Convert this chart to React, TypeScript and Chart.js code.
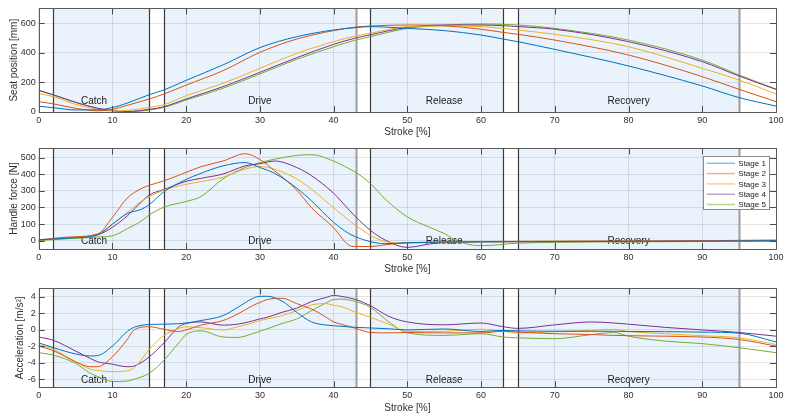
import React, { useEffect, useRef } from 'react';
import { Chart, registerables } from 'chart.js';

Chart.register(...registerables);

// ---------------- data ----------------
const STAGES = ['Stage 1', 'Stage 2', 'Stage 3', 'Stage 4', 'Stage 5'];
const PHASES = ['Catch', 'Drive', 'Release', 'Recovery'];
const PHASE_START = [2, 17, 45, 65];
const PHASE_END = [15, 43, 63, 95];
const PHASE_LABEL_X = [7.5, 30, 55, 80];

const X_TICKS = [0, 10, 20, 30, 40, 50, 60, 70, 80, 90, 100];
const SEAT_TICKS = [0, 200, 400, 600];
const FORCE_TICKS = [0, 100, 200, 300, 400, 500];
const ACC_TICKS = [-6, -4, -2, 0, 2, 4];

const STROKE_SEAT = [0, 2, 5, 8, 10, 12, 15, 17, 20, 25, 30, 35, 40, 43, 45, 50, 55, 60, 63, 65, 70, 80, 90, 95, 100];
const SEAT_S1 = [40, 29, 14, 15, 30, 60, 117, 149, 214, 318, 435, 509, 554, 570, 577, 565, 550, 520, 493, 475, 423, 311, 176, 97, 40];
const SEAT_S2 = [70, 55, 25, 8, 18, 45, 88, 122, 182, 279, 403, 493, 550, 574, 581, 588, 583, 559, 538, 525, 486, 385, 239, 153, 70];
const SEAT_S3 = [124, 104, 52, 18, 7, 10, 31, 50, 110, 194, 295, 396, 475, 514, 532, 577, 581, 577, 565, 554, 525, 441, 295, 216, 122];
const SEAT_S4 = [145, 115, 65, 25, 9, 3, 18, 36, 88, 171, 268, 367, 457, 500, 522, 572, 588, 588, 583, 577, 559, 475, 340, 243, 153];
const SEAT_S5 = [148, 117, 66, 25, 8, 2, 13, 31, 81, 160, 257, 356, 441, 486, 509, 565, 586, 595, 592, 588, 565, 486, 351, 250, 155];

const STROKE_FORCE = [0, 4, 8, 10, 12, 14, 15, 17, 20, 22, 25, 28, 30, 32, 35, 37, 40, 42, 43, 45, 47, 50, 53, 55, 57, 60, 65, 70, 80, 90, 100];
const FORCE_S1 = [5, 15, 35, 100, 163, 190, 217, 295, 368, 405, 450, 470, 440, 405, 316, 240, 110, 45, 23, -6, -18, -12, -10, -8, -8, -7, -6, -5, -4, -3, 0];
const FORCE_S2 = [5, 22, 40, 140, 256, 315, 333, 360, 411, 445, 479, 523, 488, 420, 304, 198, 78, -25, -35, -35, -25, -12, -10, -8, -6, -5, -4, -3, -2, 0, 4];
const FORCE_S3 = [3, 18, 40, 97, 169, 240, 265, 304, 339, 355, 382, 430, 446, 430, 372, 310, 198, 125, 91, 33, -6, -15, -12, -10, -8, -7, -6, -5, -4, -3, 0];
const FORCE_S4 = [3, 18, 35, 81, 149, 236, 275, 308, 357, 375, 401, 450, 463, 479, 440, 391, 285, 190, 143, 62, 4, -40, -20, -10, -8, -7, -6, -5, -4, -3, 0];
const FORCE_S5 = [0, 12, 22, 29, 72, 120, 155, 202, 236, 265, 372, 440, 469, 490, 513, 517, 479, 435, 411, 343, 250, 143, 81, 43, -6, -30, -15, -10, -7, -5, -2];

const STROKE_ACC = [0, 2, 5, 7, 8, 10, 12, 13, 15, 17, 19, 20, 22, 25, 27, 29, 30, 31, 33, 35, 37, 39, 40, 41, 43, 45, 47.5, 50, 55, 60, 63, 65, 70, 75, 78, 80, 85, 90, 95, 100];
const ACC_S1 = [-1.6, -2.2, -2.95, -3.2, -3.15, -2.0, -0.23, 0.3, 0.62, 0.66, 0.72, 0.8, 1.1, 1.7, 2.7, 3.77, 4.04, 4.04, 3.46, 2.1, 0.93, 0.55, 0.47, 0.4, 0.27, 0.2, 0.1, -0.04, 0.08, -0.23, -0.1, -0.15, -0.2, -0.2, -0.2, -0.23, -0.25, -0.3, -0.43, -1.5];
const ACC_S2 = [-2.0, -2.56, -3.9, -4.5, -4.5, -3.3, -1.2, 0, 0.35, 0.04, -0.23, -0.04, 0.54, 1.1, 1.9, 2.9, 3.3, 3.65, 3.8, 3.15, 2.5, 1.5, 0.93, 0.66, 0.15, -0.35, -0.4, -0.35, -0.4, -0.4, -0.2, -0.3, -0.5, -0.6, -0.7, -0.74, -0.8, -0.9, -1.2, -2.0];
const ACC_S3 = [-1.8, -2.4, -3.9, -4.8, -4.95, -5.1, -5.0, -4.6, -2.4, -0.7, 0.15, 0.35, 0.23, -0.04, 0.35, 0.8, 1.1, 1.3, 1.7, 2.3, 3.0, 3.15, 2.95, 2.8, 2.1, 1.5, 0.66, -0.23, -0.2, 0.04, -0.2, -0.43, -0.25, -0.1, 0.04, -0.23, -0.5, -0.74, -1.0, -1.8];
const ACC_S4 = [-0.9, -1.3, -2.6, -3.5, -3.9, -4.2, -4.5, -4.4, -3.3, -1.6, 0.35, 0.74, 0.93, 0.54, 0.66, 1.05, 1.3, 1.5, 2.1, 2.6, 3.4, 3.9, 4.15, 4.04, 3.65, 2.9, 1.6, 0.93, 0.58, 0.8, 0.35, 0.15, 0.58, 0.93, 0.8, 0.66, 0.27, -0.04, -0.35, -0.8];
const ACC_S5 = [-2.8, -3.1, -4.1, -5.3, -5.7, -6.3, -6.25, -6.0, -5.3, -3.7, -1.6, -0.6, -0.15, -0.9, -0.95, -0.5, -0.2, 0.1, 0.74, 1.3, 2.3, 3.26, 3.65, 3.7, 3.4, 2.7, 0.93, -0.4, -0.7, -0.5, -0.9, -1.0, -1.1, -0.6, -0.35, -0.8, -1.4, -1.7, -2.2, -2.8];

// ---------------- styles ----------------
const COLORS = ['#0072BD', '#D95319', '#EDB120', '#7E2F8E', '#77AC30'];
const LEGEND_COLORS = ['rgba(0,114,189,0.45)', 'rgba(217,83,25,0.45)', 'rgba(237,177,32,0.55)', 'rgba(126,47,142,0.45)', 'rgba(119,172,48,0.5)'];
const FONT_FAMILY = '"Liberation Sans", Arial, Helvetica, sans-serif';
const TEXT_COLOR = '#303030';
const GRID_COLOR = 'rgba(38,38,38,0.12)';
const SHADE = 'rgb(234,243,252)';
const FRAME_COLOR = '#5a5a5a';
const END_GRAY = [false, true, false, true];

const PANELS = [
  {
    yTitle: 'Seat position [mm]', x: STROKE_SEAT, series: [SEAT_S1, SEAT_S2, SEAT_S3, SEAT_S4, SEAT_S5],
    yMin: 0, yMax: 700, yTicks: SEAT_TICKS, labelY: 70, padTop: 8.3, padBottom: 0, yTitlePad: 8.7, legend: false,
  },
  {
    yTitle: 'Handle force [N]', x: STROKE_FORCE, series: [FORCE_S1, FORCE_S2, FORCE_S3, FORCE_S4, FORCE_S5],
    yMin: -50, yMax: 555, yTicks: FORCE_TICKS, labelY: -3, padTop: 5.3, padBottom: 3, yTitlePad: 8, legend: true,
  },
  {
    yTitle: 'Acceleration [m/s²]', x: STROKE_ACC, series: [ACC_S1, ACC_S2, ACC_S3, ACC_S4, ACC_S5],
    yMin: -7, yMax: 5, yTicks: ACC_TICKS, labelY: -6.2, padTop: 3.3, padBottom: 4.7, yTitlePad: 14, legend: false,
  },
];

function makeDecor(panel: any) {
  return {
    id: 'phaseDecor',
    beforeDraw(chart: any) {
      const { ctx, chartArea: a, scales } = chart;
      const xs = scales.x;
      ctx.save();
      ctx.fillStyle = SHADE;
      PHASE_START.forEach((s, i) => {
        const x0 = xs.getPixelForValue(s);
        const x1 = xs.getPixelForValue(PHASE_END[i]);
        ctx.fillRect(x0, a.top, x1 - x0, a.bottom - a.top);
      });
      ctx.restore();
    },
    beforeDatasetsDraw(chart: any) {
      const { ctx, chartArea: a, scales } = chart;
      const xs = scales.x;
      const ys = scales.y;
      ctx.save();
      PHASE_START.forEach((s, i) => {
        const x0 = Math.round(xs.getPixelForValue(s)) + 0.5;
        ctx.strokeStyle = '#3a3a3a';
        ctx.lineWidth = 1.2;
        ctx.beginPath();
        ctx.moveTo(x0, a.top);
        ctx.lineTo(x0, a.bottom);
        ctx.stroke();
        const x1 = Math.round(xs.getPixelForValue(PHASE_END[i])) + 0.5;
        ctx.strokeStyle = END_GRAY[i] ? '#9c9c9c' : '#3a3a3a';
        ctx.lineWidth = END_GRAY[i] ? 2 : 1.2;
        ctx.beginPath();
        ctx.moveTo(x1, a.top);
        ctx.lineTo(x1, a.bottom);
        ctx.stroke();
      });
      ctx.fillStyle = '#1a1a1a';
      ctx.font = `10px ${FONT_FAMILY}`;
      ctx.textAlign = 'center';
      ctx.textBaseline = 'middle';
      PHASES.forEach((p, i) => {
        ctx.fillText(p, xs.getPixelForValue(PHASE_LABEL_X[i]), ys.getPixelForValue(panel.labelY));
      });
      ctx.restore();
    },
    afterDatasetsDraw(chart: any) {
      const { ctx, chartArea: a, scales } = chart;
      const xs = scales.x;
      const ys = scales.y;
      ctx.save();
      ctx.strokeStyle = '#4a4a4a';
      ctx.lineWidth = 1;
      const tl = 6;
      ctx.beginPath();
      X_TICKS.forEach((t) => {
        const px = Math.round(xs.getPixelForValue(t)) + 0.5;
        ctx.moveTo(px, a.top);
        ctx.lineTo(px, a.top + tl);
        ctx.moveTo(px, a.bottom);
        ctx.lineTo(px, a.bottom - tl);
      });
      panel.yTicks.forEach((t: number) => {
        const py = Math.round(ys.getPixelForValue(t)) + 0.5;
        ctx.moveTo(a.left, py);
        ctx.lineTo(a.left + tl, py);
        ctx.moveTo(a.right, py);
        ctx.lineTo(a.right - tl, py);
      });
      ctx.stroke();
      ctx.strokeStyle = FRAME_COLOR;
      ctx.lineWidth = 1;
      ctx.strokeRect(Math.round(a.left) + 0.5, Math.round(a.top) + 0.5, Math.round(a.right - a.left), Math.round(a.bottom - a.top));
      if (panel.legend) {
        const w = 65.7;
        const h = 53.4;
        const left = a.right - 7 - w;
        const top = a.top + 8;
        ctx.fillStyle = '#ffffff';
        ctx.fillRect(left, top, w, h);
        ctx.strokeStyle = '#8a8a8a';
        ctx.lineWidth = 1;
        ctx.strokeRect(Math.round(left) + 0.5, Math.round(top) + 0.5, Math.round(w), Math.round(h));
        ctx.font = `8px ${FONT_FAMILY}`;
        ctx.textAlign = 'left';
        ctx.textBaseline = 'middle';
        chart.data.datasets.forEach((ds: any, i: number) => {
          const y = top + 6.9 + i * 10.3;
          ctx.strokeStyle = LEGEND_COLORS[i];
          ctx.lineWidth = 1.5;
          ctx.beginPath();
          ctx.moveTo(left + 3.4, y);
          ctx.lineTo(left + 31.7, y);
          ctx.stroke();
          ctx.fillStyle = '#202020';
          ctx.fillText(ds.label, left + 35, y + 0.5);
        });
      }
      ctx.restore();
    },
  };
}

function Panel({ panel, top }: { panel: any; top: number }) {
  const ref = useRef<HTMLCanvasElement | null>(null);
  useEffect(() => {
    if (!ref.current) return;
    const tickFont = { family: FONT_FAMILY, size: 9 };
    const titleFont = { family: FONT_FAMILY, size: 10 };
    const chart = new Chart(ref.current, {
      type: 'line',
      data: {
        datasets: panel.series.map((s: number[], i: number) => ({
          label: STAGES[i],
          data: panel.x.map((x: number, j: number) => ({ x, y: s[j] })),
          borderColor: COLORS[i],
          backgroundColor: COLORS[i],
          borderWidth: 1,
          pointRadius: 0,
          fill: false,
          cubicInterpolationMode: 'monotone',
        })),
      },
      options: {
        responsive: false,
        animation: false,
        devicePixelRatio: 1,
        layout: { padding: { top: panel.padTop, bottom: panel.padBottom, left: 0, right: 17 } },
        plugins: { legend: { display: false }, tooltip: { enabled: false } },
        scales: {
          x: {
            type: 'linear',
            min: 0,
            max: 100,
            afterBuildTicks: (s: any) => { s.ticks = X_TICKS.map((v) => ({ value: v })); },
            afterFit: (s: any) => { s.height = 28; },
            ticks: { font: tickFont, color: TEXT_COLOR, padding: 3, maxRotation: 0, autoSkip: false },
            grid: { color: GRID_COLOR, drawTicks: false, lineWidth: 1 },
            border: { display: false },
            title: { display: true, text: 'Stroke [%]', font: titleFont, color: TEXT_COLOR, padding: { top: 0, bottom: 1.5 } },
          },
          y: {
            type: 'linear',
            min: panel.yMin,
            max: panel.yMax,
            afterBuildTicks: (s: any) => { s.ticks = panel.yTicks.map((v: number) => ({ value: v })); },
            afterFit: (s: any) => { s.width = 38.7; },
            ticks: { font: tickFont, color: TEXT_COLOR, padding: 3 },
            grid: { color: GRID_COLOR, drawTicks: false, lineWidth: 1 },
            border: { display: false },
            title: { display: true, text: panel.yTitle, font: titleFont, color: TEXT_COLOR, padding: { top: panel.yTitlePad, bottom: 0 } },
          },
        },
      },
      plugins: [makeDecor(panel)],
    } as any);
    return () => chart.destroy();
  }, [panel]);
  return (
    <canvas
      ref={ref}
      width={793}
      height={140}
      style={{ position: 'absolute', left: 0, top, width: 793, height: 140, display: 'block' }}
    />
  );
}

export default function App() {
  return (
    <div style={{ position: 'fixed', left: 0, top: 0, width: 793, height: 420, background: '#ffffff', overflow: 'hidden' }}>
      {PANELS.map((p, i) => (
        <Panel key={i} panel={p} top={i * 140} />
      ))}
    </div>
  );
}
